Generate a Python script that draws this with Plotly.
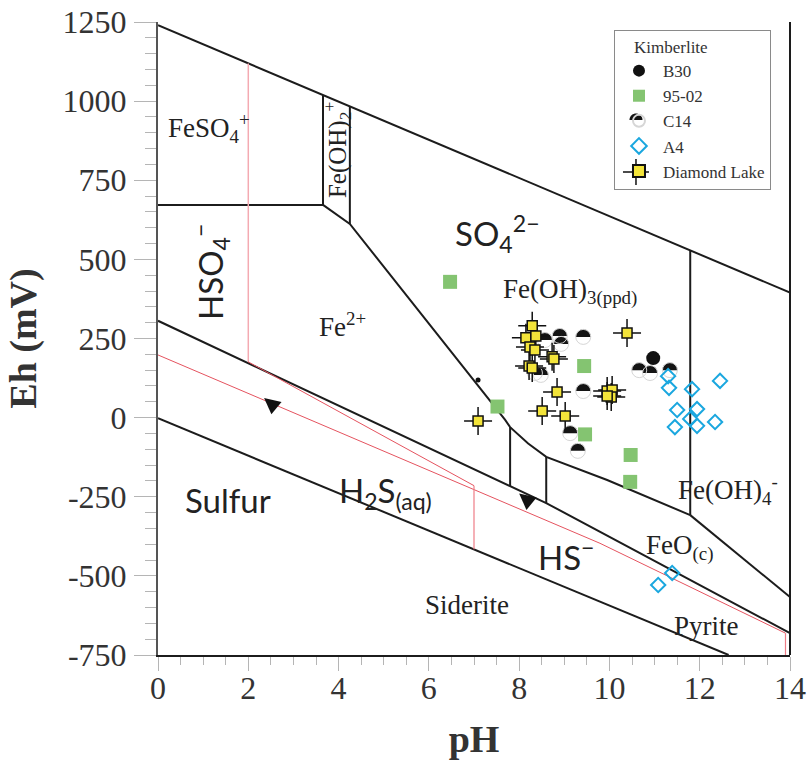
import math
import plotly.graph_objects as go

# ---------------- data (pH, Eh in mV) ----------------
# sample points
b30_ph = [10.97, 7.09]
b30_eh = [188, 119]

s9502_ph = [6.47, 7.52, 9.44, 9.46, 10.47, 10.46]
s9502_eh = [429, 35, 163, -53, -118, -203]

c14_ph = [8.90, 9.42, 8.93, 8.57, 8.48, 8.35, 9.42, 9.13, 9.30, 10.66, 10.90, 11.34]
c14_eh = [258, 255, 233, 245, 135, 141, 84, -49, -105, 150, 141, 150]

a4_ph = [11.30, 11.32, 11.83, 12.45, 11.50, 11.94, 11.79, 11.45, 11.94, 12.34, 11.08, 11.39]
a4_eh = [131, 94, 90, 116, 24, 27, -4, -30, -26, -14, -529, -491]

dl_ph = [8.29, 8.15, 8.37, 8.24, 8.35, 8.73, 8.77, 8.22, 8.29, 8.84, 8.51, 9.02,
         7.09, 10.39, 9.95, 10.06, 10.04, 9.95]
dl_eh = [290, 252, 258, 223, 214, 192, 185, 163, 157, 81, 21, 5,
         -11, 267, 84, 87, 65, 68]

# stability-field boundaries (black)
water_upper_ph = [0, 14]
water_upper_eh = [1240, 395]
water_lower_ph = [0, 12.64]
water_lower_eh = [-2, -750]
sulfide_ph = [0, 8.6, 14]
sulfide_eh = [306, -270, -681]
feso4_base_ph = [0, 3.655]
feso4_base_eh = [672, 672]
feoh2_left_ph = [3.655, 3.655]
feoh2_left_eh = [672, 1019]
feoh2_right_ph = [4.25, 4.25]
feoh2_right_eh = [612, 983]
fe2_fe3_ph = [3.655, 4.25, 7.69, 7.8, 8.2, 8.6, 9.95, 11.79]
fe2_fe3_eh = [672, 612, -7, -30, -82, -124, -197, -308]
feoh4_base_ph = [11.79, 14]
feoh4_base_eh = [-308, -567]
feoh4_left_ph = [11.79, 11.79]
feoh4_left_eh = [528, -308]
v78_ph = [7.8, 7.8]
v78_eh = [-30, -216]
v86_ph = [8.6, 8.6]
v86_eh = [-124, -270]

# sulfur-system boundaries (red)
red_ph2_ph = [2, 2]
red_ph2_eh = [1119, 176]
red_main_ph = [0, 9.79, 13.9]
red_main_eh = [198, -397, -681]
red_hso4_ph = [2, 7]
red_hso4_eh = [176, -215]
red_ph7_ph = [7, 7]
red_ph7_eh = [-215, -416]
red_ph14_ph = [13.9, 13.9]
red_ph14_eh = [-681, -750]

# axis ticks
ph_ticks = [0, 2, 4, 6, 8, 10, 12, 14]
eh_ticks = [1250, 1000, 750, 500, 250, 0, -250, -500, -750]
eh_ticktext = ["1250", "1000", "750", "500", "250", "0", "-250", "-500", "-750"]

SERIF = "Liberation Serif"
SANS = "Lato"

fig = go.Figure()


def add_line(xs, ys, color, width):
    fig.add_trace(go.Scatter(x=xs, y=ys, mode="lines",
                             line=dict(color=color, width=width),
                             showlegend=False, hoverinfo="skip"))


BLK = "#1c1c1c"
for xs, ys in [(water_upper_ph, water_upper_eh), (water_lower_ph, water_lower_eh),
               (sulfide_ph, sulfide_eh), (feso4_base_ph, feso4_base_eh),
               (feoh2_left_ph, feoh2_left_eh), (feoh2_right_ph, feoh2_right_eh),
               (fe2_fe3_ph, fe2_fe3_eh), (feoh4_base_ph, feoh4_base_eh),
               (feoh4_left_ph, feoh4_left_eh), (v78_ph, v78_eh), (v86_ph, v86_eh)]:
    add_line(xs, ys, BLK, 2)

add_line(red_ph2_ph, red_ph2_eh, "#f4aab2", 1.5)
add_line(red_main_ph, red_main_eh, "#e5535f", 1)
add_line(red_hso4_ph, red_hso4_eh, "#e5535f", 1)
add_line(red_ph7_ph, red_ph7_eh, "#ee7c86", 1.2)
add_line(red_ph14_ph, red_ph14_eh, "#ee7c86", 1.2)

# sample traces
fig.add_trace(go.Scatter(x=s9502_ph, y=s9502_eh, mode="markers", name="95-02",
                         legendrank=2,
                         marker=dict(symbol="square", size=14, color="#84c471",
                                     opacity=1, line=dict(width=0))))
fig.add_trace(go.Scatter(x=c14_ph, y=c14_eh, mode="markers", name="C14",
                         legendrank=3,
                         marker=dict(symbol="circle", size=15, color="rgba(255,255,255,0)",
                                     opacity=1, line=dict(width=1, color="#d6d6d6"))))
fig.add_trace(go.Scatter(x=b30_ph, y=b30_eh, mode="markers", name="B30",
                         legendrank=1,
                         marker=dict(symbol="circle", size=[14, 5], color="#111111",
                                     opacity=1, line=dict(width=0))))
fig.add_trace(go.Scatter(x=a4_ph, y=a4_eh, mode="markers", name="A4",
                         legendrank=4,
                         marker=dict(symbol="diamond-open", size=11, color="#1aa7df",
                                     opacity=1, line=dict(width=2, color="#1aa7df"))))
fig.add_trace(go.Scatter(x=dl_ph, y=dl_eh, mode="markers", showlegend=False,
                         hoverinfo="skip",
                         marker=dict(symbol="cross-thin", size=20, opacity=1,
                                     line=dict(width=1.5, color="#111"))))
fig.add_trace(go.Scatter(x=dl_ph, y=dl_eh, mode="markers", name="Diamond Lake",
                         legendrank=5,
                         marker=dict(symbol="square", size=10, color="#f3e43a",
                                     opacity=1, line=dict(width=1.5, color="#111"))))


def half_top(r, n=18):
    pts = []
    for i in range(n + 1):
        a = math.pi * i / n
        pts.append("%.2f,%.2f" % (r * math.cos(a), r * math.sin(a)))
    return "M " + " L ".join(pts) + " Z"


shapes = []
for px_, ey in zip(c14_ph, c14_eh):
    shapes.append(dict(type="path", xref="x", yref="y", xsizemode="pixel",
                       ysizemode="pixel", xanchor=px_, yanchor=ey,
                       path=half_top(7.5), fillcolor="#141414",
                       line=dict(width=0), layer="between"))
# right frame line
shapes.append(dict(type="line", xref="paper", yref="paper", x0=1, x1=1, y0=0, y1=1,
                   line=dict(color="#1c1c1c", width=2), layer="above"))

# legend icon decorations (C14 half disc, Diamond Lake cross arms)
LEG_ICON_X = 0.7563
shapes.append(dict(type="path", xref="paper", yref="paper", xsizemode="pixel",
                   ysizemode="pixel", xanchor=LEG_ICON_X, yanchor=0.8452,
                   path=half_top(6.5), fillcolor="#141414", line=dict(width=0),
                   layer="above"))
shapes.append(dict(type="path", xref="paper", yref="paper", xsizemode="pixel",
                   ysizemode="pixel", xanchor=LEG_ICON_X, yanchor=0.7630,
                   path="M -13,0 L 13,0 M 0,-13 L 0,13",
                   line=dict(width=1.5, color="#111"), layer="above"))

# region labels
ann = []


def label(x, y, text, family, size, angle=0):
    ann.append(dict(x=x, y=y, xref="x", yref="y", text=text, showarrow=False,
                    textangle=angle, font=dict(family=family, size=size, color="#222")))


SERIF_SZ = 27
SANS_SZ = 33
label(1.12, 915, "FeSO<sub>4</sub><sup>+</sup>", SERIF, SERIF_SZ)
label(3.97, 846, "Fe(OH)<sub>2</sub><sup>+</sup>", SERIF, 25, -90)
label(1.15, 460, "HSO<sub>4</sub><sup>−</sup>", SANS, SANS_SZ, -90)
label(7.51, 583, "SO<sub>4</sub><sup>2−</sup>", SANS, SANS_SZ)
label(9.13, 400, "Fe(OH)<sub>3(ppd)</sub>", SERIF, SERIF_SZ)
label(4.08, 293, "Fe<sup>2+</sup>", SERIF, SERIF_SZ)
label(1.55, -260, "Sulfur", SANS, SANS_SZ)
label(5.03, -235, "H<sub>2</sub>S<sub>(aq)</sub>", SANS, SANS_SZ)
label(9.04, -434, "HS<sup>−</sup>", SANS, SANS_SZ)
label(11.56, -409, "FeO<sub>(c)</sub>", SERIF, SERIF_SZ)
label(12.63, -229, "Fe(OH)<sub>4</sub><sup>-</sup>", SERIF, SERIF_SZ)
label(6.85, -592, "Siderite", SERIF, SERIF_SZ)
label(12.16, -658, "Pyrite", SERIF, SERIF_SZ)

# arrowheads on the reaction path
for ax_ph, ax_eh in [(2.35, 62), (8.0, -240)]:
    ann.append(dict(x=ax_ph, y=ax_eh, xref="x", yref="y", text="", showarrow=True,
                    arrowhead=2, arrowsize=1.6, arrowwidth=2, arrowcolor="#111",
                    ax=11, ay=9))

fig.update_layout(
    width=809, height=777, autosize=False,
    margin=dict(l=158, r=19, t=22, b=122, pad=0),
    paper_bgcolor="white", plot_bgcolor="white",
    showlegend=True,
    legend=dict(x=0.7215, y=0.9874, xanchor="left", yanchor="top",
                bordercolor="#8a8a8a", borderwidth=1, bgcolor="rgba(255,255,255,0)",
                font=dict(family=SERIF, size=17, color="#333"),
                title=dict(text="\u00a0\u00a0\u00a0\u00a0Kimberlite",
                           font=dict(family=SERIF, size=17, color="#333")),
                itemsizing="constant", itemwidth=38, tracegroupgap=0),
    shapes=shapes,
    annotations=ann,
    xaxis=dict(range=[0, 14], tickmode="array", tickvals=ph_ticks,
               ticks="outside", ticklen=14, tickcolor="#b5b5b5", tickwidth=1,
               minor=dict(ticks="outside", ticklen=8, tickcolor="#b5b5b5",
                          tick0=0, dtick=0.5),
               showline=True, linecolor="#1c1c1c", linewidth=2,
               showgrid=False, zeroline=False, automargin=False,
               ticklabelstandoff=-10,
               tickfont=dict(family=SERIF, size=32, color="#333"),
               title=dict(text="pH", standoff=20,
                          font=dict(family=SERIF, size=38, color="#333", weight="bold"))),
    yaxis=dict(range=[-750, 1250], tickmode="array", tickvals=eh_ticks,
               ticktext=eh_ticktext,
               ticks="outside", ticklen=22, tickcolor="#b5b5b5", tickwidth=1,
               minor=dict(ticks="outside", ticklen=11, tickcolor="#b5b5b5",
                          tick0=0, dtick=50),
               showline=True, linecolor="#555", linewidth=2,
               showgrid=False, zeroline=False, automargin=False,
               ticklabelstandoff=1,
               tickfont=dict(family=SERIF, size=32, color="#333"),
               title=dict(text="Eh (mV)", standoff=14,
                          font=dict(family=SERIF, size=38, color="#333", weight="bold"))),
)

fig.write_html("out.html")
